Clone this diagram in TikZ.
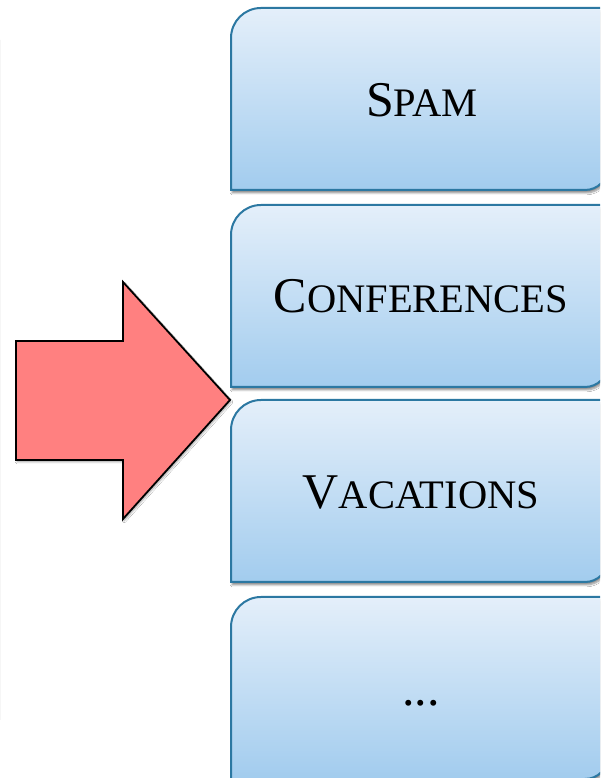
\documentclass[tikz,border=0pt]{standalone}
\usepackage{fontspec}
\setmainfont{Liberation Serif}
\usetikzlibrary{shadows.blur}
\definecolor{boxtop}{RGB}{228,239,250}
\definecolor{boxbot}{RGB}{162,204,238}
\definecolor{boxline}{RGB}{44,120,162}
\definecolor{arrowfill}{RGB}{255,128,128}
\definecolor{edgegray}{RGB}{246,246,246}
\newcommand{\fakesc}[2]{{\fontsize{50}{60}\selectfont #1}{\fontsize{40.5}{48}\selectfont #2}}
\tikzset{
  catbox/.style={draw=boxline, line width=2pt, top color=boxtop, bottom color=boxbot,
    blur shadow={shadow xshift=1pt, shadow yshift=-3pt, shadow blur steps=6, shadow opacity=45}},
  bigarrow/.style={draw=black, line width=1.8pt, fill=arrowfill, line join=miter,
    blur shadow={shadow xshift=1pt, shadow yshift=-2pt, shadow blur steps=5, shadow opacity=35}},
  label/.style={anchor=base, inner sep=0pt, text=black}
}
\begin{document}
\begin{tikzpicture}[x=1pt,y=1pt]
\useasboundingbox (0,0) rectangle (600,778);
\fill[white] (0,0) rectangle (600,778);
\clip (0,0) rectangle (600,778);
\draw[edgegray, line width=1pt] (0.5,{778-40}) -- (0.5,{778-720});
% category boxes (top, bottom in pixel rows)
\foreach \t/\b in {8/190, 205/387, 400/582, 597/779}{
  \path[catbox] (231,{778-\b}) -- (231,{778-\t-30}) arc[start angle=180,end angle=90,radius=30]
    -- (608,{778-\t}) -- (608,{778-\b+23}) arc[start angle=0,end angle=-90,radius=23] -- cycle;
}
\node[label] (spam) at (422,{778-117}) {\fakesc{S}{PAM}};
\node[label] (conf) at (421,{778-313}) {\fakesc{C}{ONFERENCES}};
\node[label] (vac) at (421,{778-509}) {\fakesc{V}{ACATIONS}};
\node[label] (more) at (421,{778-706}) {\fontsize{50}{60}\selectfont ...};
% big arrow
\path[bigarrow] (16,437) -- (123,437) -- (123,496) -- (230,378) -- (123,259) -- (123,318) -- (16,318) -- cycle;
\end{tikzpicture}
\end{document}
